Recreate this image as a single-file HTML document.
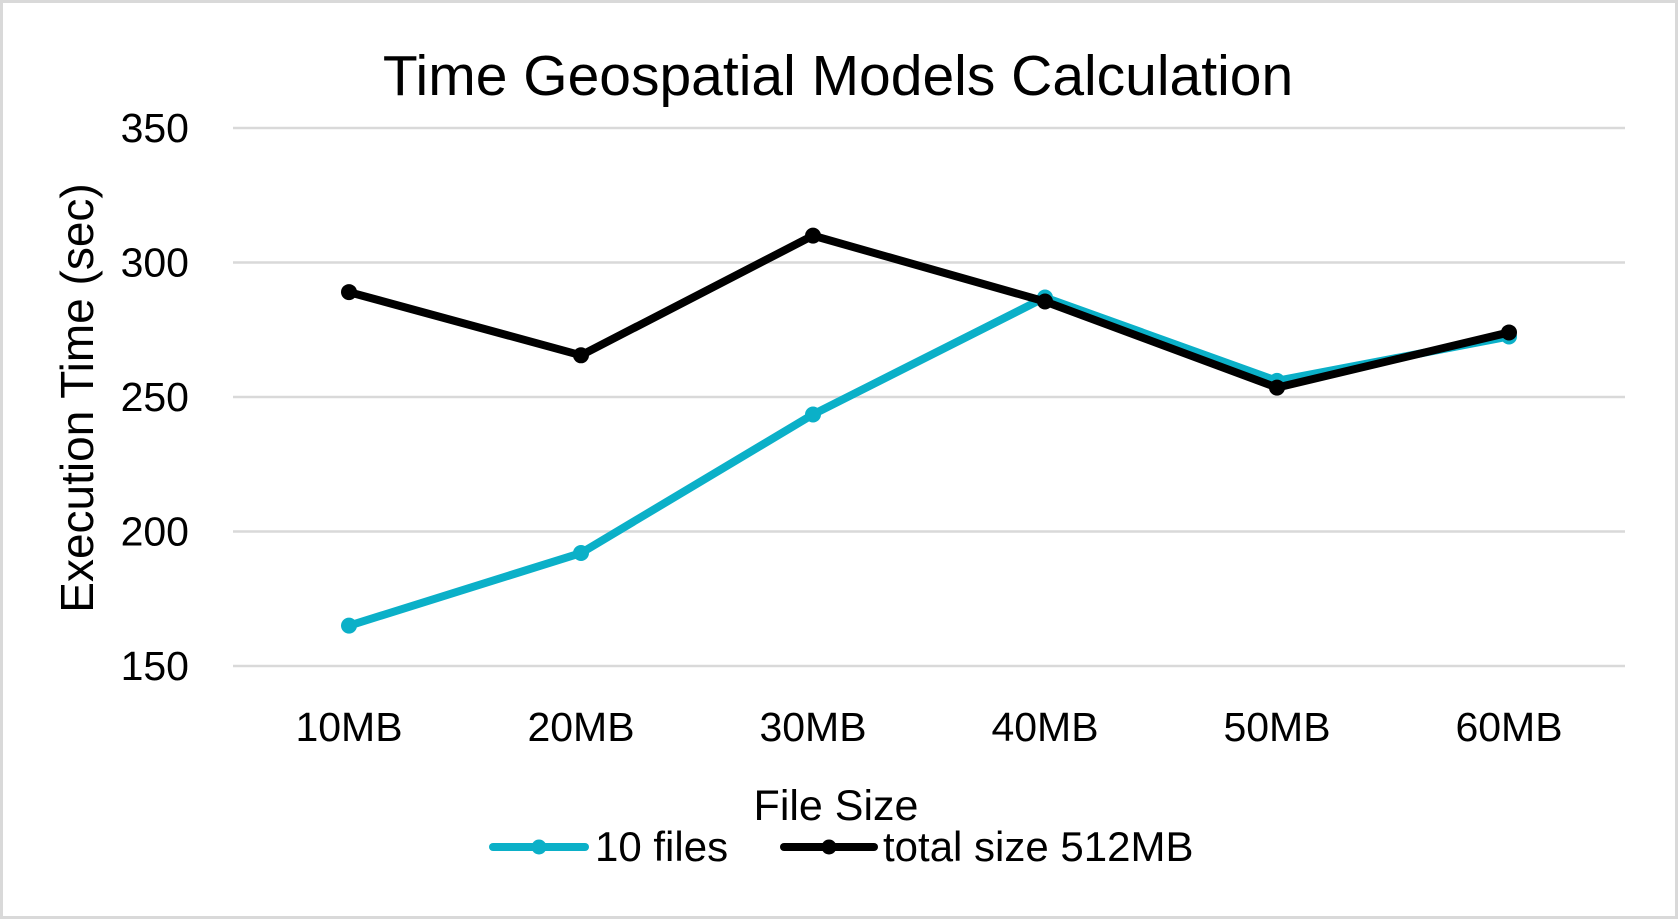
<!DOCTYPE html>
<html><head><meta charset="utf-8"><style>
html,body{margin:0;padding:0;background:#fff;}
svg{display:block;font-family:"Liberation Sans",sans-serif;}
</style></head><body>
<svg id="chart" width="1678" height="919" viewBox="0 0 1678 919">
<rect x="1.5" y="1.5" width="1675" height="916" fill="#fff" stroke="#d9d9d9" stroke-width="3"/>
<text x="838" y="95" font-size="57" text-anchor="middle" fill="#000">Time Geospatial Models Calculation</text>
<g id="grid"></g><g id="yticks"></g><g id="xticks"></g><g id="series"></g>
<text transform="translate(93,398) rotate(-90)" font-size="46" text-anchor="middle" fill="#000">Execution Time (sec)</text>
<text x="836" y="820" font-size="43" text-anchor="middle" fill="#000">File Size</text>
<g>
<g>
<line x1="493" y1="847" x2="585" y2="847" stroke="#0bb0c8" stroke-width="8" stroke-linecap="round"/>
<circle cx="539" cy="847" r="7.5" fill="#0bb0c8"/>
<text x="595" y="861" font-size="42" fill="#000">10 files</text>
</g>
<g>
<line x1="784" y1="847" x2="874" y2="847" stroke="#000" stroke-width="8" stroke-linecap="round"/>
<circle cx="829" cy="847" r="7.5" fill="#000"/>
<text x="883" y="861" font-size="42" fill="#000">total size 512MB</text>
</g>
</g>
</svg>
<script>
const categories = ["10MB","20MB","30MB","40MB","50MB","60MB"];
const files10 = [165, 192, 243.5, 287, 256, 272.5];
const total512 = [289, 265.5, 310, 285.5, 253.5, 274];
const yTicks = [150, 200, 250, 300, 350];
const NS = "http://www.w3.org/2000/svg";
const L = 233, R = 1625, T = 128, B = 666, yMin = 150, yMax = 350;
const band = (R - L) / categories.length;
const xPos = i => L + band * (i + 0.5);
const yPos = v => B - (v - yMin) / (yMax - yMin) * (B - T);
function mk(tag, attrs, parent){const e=document.createElementNS(NS,tag);for(const k in attrs)e.setAttribute(k,attrs[k]);parent.appendChild(e);return e;}
const grid=document.getElementById('grid'), yt=document.getElementById('yticks'), xt=document.getElementById('xticks'), ser=document.getElementById('series');
yTicks.forEach(v=>{
  const g=mk('line',{x1:L,x2:R,y1:yPos(v),y2:yPos(v),stroke:'#d9d9d9','stroke-width':2.5},grid);
  
  
  const t=mk('text',{x:189,y:yPos(v)+14,'font-size':41,'text-anchor':'end',fill:'#000'},yt);
  t.textContent=v;
  
  
});
categories.forEach((c,i)=>{
  const t=mk('text',{x:xPos(i),y:741,'font-size':41,'text-anchor':'middle',fill:'#000'},xt);
  t.textContent=c;
  
  
});
function drawSeries(vals,color,name){
  const pts=vals.map((v,i)=>xPos(i)+','+yPos(v)).join(' ');
  const pl=mk('polyline',{points:pts,fill:'none',stroke:color,'stroke-width':8,'stroke-linejoin':'round','stroke-linecap':'round'},ser);
  
  
  vals.forEach((v,i)=>{
    const c=mk('circle',{cx:xPos(i),cy:yPos(v),r:8,fill:color},ser);
    
    
  });
}
drawSeries(files10,'#0bb0c8','10-files');
drawSeries(total512,'#000','total-size-512mb');
</script>
</body></html>
